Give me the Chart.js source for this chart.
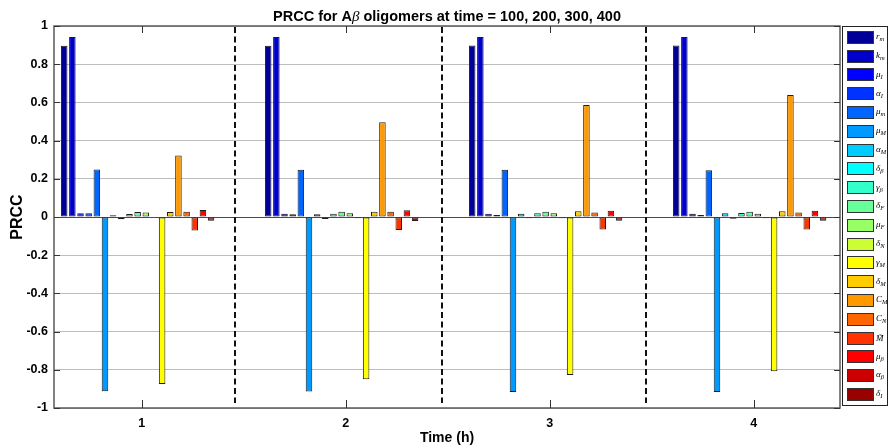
<!DOCTYPE html>
<html>
<head>
<meta charset="utf-8">
<script src="https://cdn.jsdelivr.net/npm/chart.js@4/dist/chart.umd.min.js"></script>
<style>
  html, body { margin: 0; padding: 0; background: #fff; }
  #wrap { position: relative; width: 891px; height: 448px; }
  #c { position: absolute; left: 0; top: 0; }
  #legend {
    position: absolute; left: 842px; top: 26px; width: 46px; height: 380px;
    border: 1px solid #222; background: #fff; box-sizing: border-box;
    padding-top: 1px;
  }
  .row { height: 18.8px; display: flex; align-items: center; }
  .sw { width: 27px; height: 13px; margin-left: 4px; border: 1px solid #333; box-sizing: border-box; flex: none; }
  .lb { margin-left: 2px; font: italic 9px "Liberation Serif", "DejaVu Serif", serif; color: #000; white-space: nowrap; line-height: 1; }
  .lb sub { font-size: 6.5px; vertical-align: -2px; }
</style>
</head>
<body>
<div id="wrap">
  <canvas id="c" width="891" height="448"></canvas>
  <div id="legend"></div>
</div>
<script>
// Time points (x categories)
const times = [1, 2, 3, 4];

// Parameter symbols and their subscripts, in plotting order
const paramSymbols    = ['r', 'k', 'μ', 'α', 'μ', 'μ', 'α', 'δ', 'γ', 'δ', 'μ', 'δ', 'γ', 'δ', 'C', 'C', 'M\u0303', 'μ', 'α', 'δ'];
const paramSubscripts = ['m', 'm', 'I', 'I', 'm', 'M', 'M', 'β', 'β', 'F', 'F', 'N', 'M', 'M', 'M', 'N', '',       'β', 'β', 'I'];

// PRCC values for each parameter at each time point
const prccT1 = [0.896, 0.942, 0.019, 0.019, 0.249, -0.912, 0.009, -0.012, 0.016, 0.026, 0.023, -0.003, -0.874, 0.026, 0.322, 0.028, -0.071, 0.037, -0.019, -0.002];
const prccT2 = [0.896, 0.942, 0.017, 0.014, 0.247, -0.914, 0.014, -0.010, 0.017, 0.028, 0.019, -0.007, -0.850, 0.028, 0.496, 0.028, -0.068, 0.035, -0.021, -0.002];
const prccT3 = [0.898, 0.943, 0.017, 0.010, 0.247, -0.916, 0.017, -0.007, 0.019, 0.028, 0.019, -0.007, -0.827, 0.030, 0.587, 0.024, -0.066, 0.033, -0.019, -0.002];
const prccT4 = [0.898, 0.943, 0.017, 0.010, 0.245, -0.916, 0.019, -0.009, 0.021, 0.028, 0.017, -0.007, -0.808, 0.030, 0.639, 0.024, -0.066, 0.033, -0.019, -0.002];

// Separators between time groups
const separators = [1.456, 2.47, 3.473];

// y tick labels
const yTickValues = [-1, -0.8, -0.6, -0.4, -0.2, 0, 0.2, 0.4, 0.6, 0.8, 1];

// jet(20) colour map
const jetColors = [
  [0, 0, 0.6], [0, 0, 0.8], [0, 0, 1], [0, 0.2, 1], [0, 0.4, 1], [0, 0.6, 1], [0, 0.8, 1], [0, 1, 1],
  [0.2, 1, 0.8], [0.4, 1, 0.6], [0.6, 1, 0.4], [0.8, 1, 0.2], [1, 1, 0], [1, 0.8, 0], [1, 0.6, 0],
  [1, 0.4, 0], [1, 0.2, 0], [1, 0, 0], [0.8, 0, 0], [0.6, 0, 0]
].map(c => `rgb(${c.map(v => Math.round(v * 255)).join(',')})`);

const byTime = [prccT1, prccT2, prccT3, prccT4];

const datasets = paramSymbols.map((sym, p) => ({
  label: sym + paramSubscripts[p],
  data: times.map((t, i) => ({ x: t, y: byTime[i][p] })),
  backgroundColor: jetColors[p],
  borderColor: '#1c1c1c',
  borderWidth: 1,
  borderSkipped: false,
  categoryPercentage: 0.8,
  barPercentage: 0.8
}));

// Legend box
const legendEl = document.getElementById('legend');
paramSymbols.forEach((sym, p) => {
  const row = document.createElement('div');
  row.className = 'row';
  const sw = document.createElement('div');
  sw.className = 'sw';
  sw.style.background = jetColors[p];
  const lb = document.createElement('span');
  lb.className = 'lb';
  lb.innerHTML = sym + (paramSubscripts[p] ? '<sub>' + paramSubscripts[p] + '</sub>' : '');
  row.appendChild(sw);
  row.appendChild(lb);
  legendEl.appendChild(row);
});

const FONT = '"Liberation Sans", Arial, Helvetica, sans-serif';

// Axes frame, inward tick marks, group separators and title
const framePlugin = {
  id: 'frame',
  afterDatasetsDraw(chart) {
    const { ctx, chartArea: a, scales: { x, y } } = chart;
    ctx.save();
    // dashed separators
    ctx.strokeStyle = '#111';
    ctx.lineWidth = 2;
    ctx.setLineDash([6, 3.5]);
    separators.forEach(v => {
      const px = Math.round(x.getPixelForValue(v));
      ctx.beginPath();
      ctx.moveTo(px, a.top + 1);
      ctx.lineTo(px, a.bottom - 5);
      ctx.stroke();
    });
    ctx.setLineDash([]);
    // frame
    ctx.strokeStyle = '#5a5a5a';
    ctx.lineWidth = 1.5;
    ctx.strokeRect(a.left, a.top, a.right - a.left, a.bottom - a.top);
    // inward ticks
    ctx.lineWidth = 1;
    ctx.strokeStyle = '#333';
    yTickValues.forEach(v => {
      const py = Math.round(y.getPixelForValue(v)) + 0.5;
      ctx.beginPath();
      ctx.moveTo(a.left, py); ctx.lineTo(a.left + 6, py);
      ctx.moveTo(a.right, py); ctx.lineTo(a.right - 6, py);
      ctx.stroke();
    });
    times.forEach(v => {
      const px = Math.round(x.getPixelForValue(v)) + 0.5;
      ctx.beginPath();
      ctx.moveTo(px, a.top); ctx.lineTo(px, a.top + 7);
      ctx.moveTo(px, a.bottom); ctx.lineTo(px, a.bottom - 8);
      ctx.stroke();
    });
    ctx.restore();
  },
  afterDraw(chart) {
    const { ctx, chartArea: a } = chart;
    const parts = [
      { t: 'PRCC for A', f: 'bold 14.5px ' + FONT },
      { t: 'β', f: 'italic 15px "Liberation Serif", "DejaVu Serif", serif' },
      { t: ' oligomers at time = 100, 200, 300, 400', f: 'bold 14.5px ' + FONT }
    ];
    ctx.save();
    ctx.fillStyle = '#000';
    ctx.textBaseline = 'alphabetic';
    let total = 0;
    parts.forEach(p => { ctx.font = p.f; p.w = ctx.measureText(p.t).width; total += p.w; });
    let xPos = (a.left + a.right) / 2 - total / 2;
    parts.forEach(p => { ctx.font = p.f; ctx.fillText(p.t, xPos, 21); xPos += p.w; });
    ctx.restore();
  }
};

new Chart(document.getElementById('c'), {
  type: 'bar',
  data: { datasets },
  plugins: [framePlugin],
  options: {
    responsive: false,
    animation: false,
    events: [],
    layout: { padding: { left: 0, top: 26, right: 51, bottom: 0 } },
    plugins: { legend: { display: false }, title: { display: false }, tooltip: { enabled: false } },
    scales: {
      x: {
        type: 'linear',
        offset: false,
        min: 0.57,
        max: 4.423,
        afterBuildTicks: s => { s.ticks = times.map(v => ({ value: v })); },
        afterFit: s => { s.height = 40; },
        grid: { display: false, drawTicks: false, offset: false },
        border: { display: false },
        ticks: {
          padding: 8,
          color: '#000',
          font: { family: FONT, size: 12.5, weight: 'bold' },
          callback: v => String(v)
        },
        title: {
          display: true,
          text: 'Time (h)',
          color: '#000',
          font: { family: FONT, size: 14, weight: 'bold' },
          padding: { top: 0, bottom: 1 }
        }
      },
      y: {
        min: -1,
        max: 1,
        afterBuildTicks: s => { s.ticks = yTickValues.map(v => ({ value: v })); },
        afterFit: s => { s.width = 54; },
        grid: {
          drawTicks: false,
          color: c => (c.tick && Math.abs(c.tick.value) < 1e-9 ? '#4a4a4a' : '#bdbdbd'),
          lineWidth: 1
        },
        border: { display: false },
        ticks: {
          padding: 6,
          color: '#000',
          font: { family: FONT, size: 12.5, weight: 'bold' },
          callback: v => String(Math.round(v * 10) / 10)
        },
        title: {
          display: true,
          text: 'PRCC',
          color: '#000',
          font: { family: FONT, size: 16, weight: 'bold' },
          padding: { top: 8, bottom: 0 }
        }
      }
    }
  }
});
</script>
</body>
</html>
